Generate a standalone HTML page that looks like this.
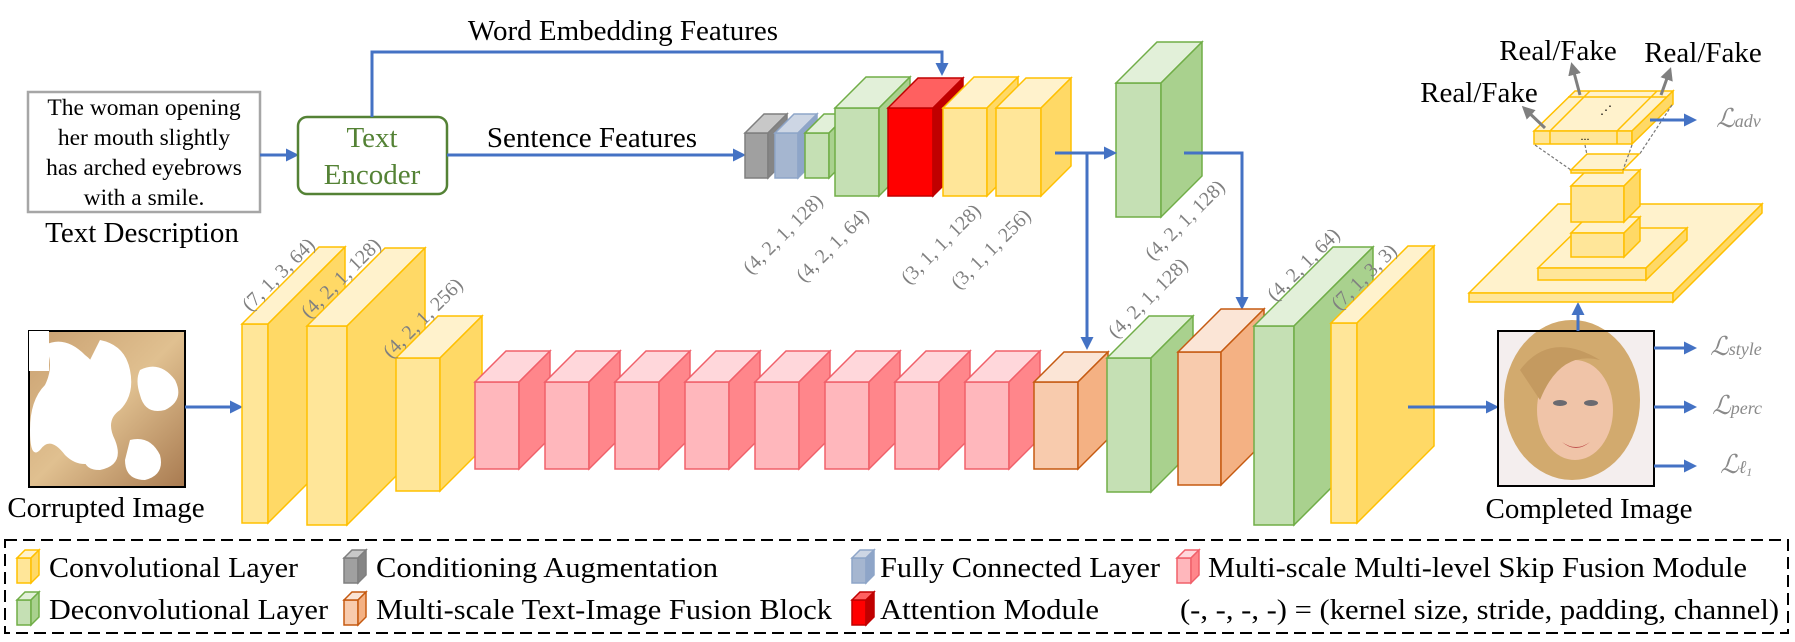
<!DOCTYPE html>
<html><head><meta charset="utf-8"><style>
html,body{margin:0;padding:0;background:#fff;}
svg{display:block;font-family:"Liberation Serif","Times New Roman","DejaVu Serif",serif;}
.t{font-family:"Liberation Serif","Times New Roman","DejaVu Serif",serif;fill:#000;}
.lab{font-family:"Liberation Serif","Times New Roman","DejaVu Serif",serif;fill:#808080;font-size:20px;}
.ls{font-family:"Liberation Serif","Times New Roman","DejaVu Serif",serif;fill:#8a8a8a;font-style:italic;}
.y .f{fill:#FFE699}.y .tp{fill:#FFF2CC}.y .s{fill:#FFD966}.y *{stroke:#FFC000;stroke-width:1.5}
.g .f{fill:#C5E0B4}.g .tp{fill:#E2F0D9}.g .s{fill:#A9D18E}.g *{stroke:#70AD47;stroke-width:1.5}
.p .f{fill:#FFB7BC}.p .tp{fill:#FFD7DB}.p .s{fill:#FF868B}.p *{stroke:#F0606A;stroke-width:1.5}
.o .f{fill:#F8CBAD}.o .tp{fill:#FBE5D6}.o .s{fill:#F4B183}.o *{stroke:#C55A11;stroke-width:1.5}
.r .f{fill:#FF0000}.r .tp{fill:#FF6060}.r .s{fill:#C00000}.r *{stroke:#C00000;stroke-width:1.5}
.k .f{fill:#A0A0A0}.k .tp{fill:#C8C8C8}.k .s{fill:#858585}.k *{stroke:#7f7f7f;stroke-width:1.5}
.b .f{fill:#A5B6D0}.b .tp{fill:#CDD6E4}.b .s{fill:#8EA5C8}.b *{stroke:#8EA5C8;stroke-width:1.5}
</style></head><body>
<svg width="1795" height="642" viewBox="0 0 1795 642" xmlns="http://www.w3.org/2000/svg" font-family="'Liberation Serif', 'Times New Roman', serif">
<defs>
<marker id="ab" markerWidth="13" markerHeight="13" refX="10" refY="6.5" orient="auto" markerUnits="userSpaceOnUse" viewBox="0 0 13 13"><path d="M0,0 L13,6.5 L0,13 z" fill="#4472C4"/></marker>
<marker id="ag" markerWidth="13" markerHeight="13" refX="10" refY="6.5" orient="auto" markerUnits="userSpaceOnUse" viewBox="0 0 13 13"><path d="M0,0 L13,6.5 L0,13 z" fill="#7f7f7f"/></marker>
<linearGradient id="hair" x1="0" y1="0" x2="1" y2="1"><stop offset="0" stop-color="#c9a070"/><stop offset="0.5" stop-color="#e0c090"/><stop offset="1" stop-color="#a87a50"/></linearGradient>
</defs>

<rect x="28" y="92" width="232" height="120" fill="#fff" stroke="#a6a6a6" stroke-width="2.5"/>
<g class="t" font-size="23.5" text-anchor="middle">
<text x="144" y="115">The woman opening</text>
<text x="144" y="145">her mouth slightly</text>
<text x="144" y="175">has arched eyebrows</text>
<text x="144" y="205">with a smile.</text>
</g>
<text class="t" x="142" y="242" font-size="29" text-anchor="middle">Text Description</text>

<line x1="260" y1="155" x2="296" y2="155" stroke="#4472C4" stroke-width="3" marker-end="url(#ab)"/>
<rect x="298" y="117" width="149" height="77" rx="9" fill="#fff" stroke="#548235" stroke-width="2.5"/>
<g class="t" font-size="29" style="fill:#548235" text-anchor="middle">
<text x="372" y="147" style="fill:#548235">Text</text><text x="372" y="184" style="fill:#548235">Encoder</text></g>

<polyline points="372,117 372,52 942,52 942,73" fill="none" stroke="#4472C4" stroke-width="3" marker-end="url(#ab)"/>
<text class="t" x="623" y="40" font-size="29" text-anchor="middle">Word Embedding Features</text>
<line x1="447" y1="155" x2="743" y2="155" stroke="#4472C4" stroke-width="3" marker-end="url(#ab)"/>
<text class="t" x="592" y="147" font-size="29" text-anchor="middle">Sentence Features</text>

<g class="k"><rect class="f" x="745" y="133" width="23" height="45"/><polygon class="tp" points="745,133 764,114 787,114 768,133"/><polygon class="s" points="768,133 787,114 787,159 768,178"/></g>
<g class="b"><rect class="f" x="775" y="133" width="23" height="45"/><polygon class="tp" points="775,133 794,114 817,114 798,133"/><polygon class="s" points="798,133 817,114 817,159 798,178"/></g>
<g class="g"><rect class="f" x="805" y="133" width="24" height="45"/><polygon class="tp" points="805,133 824,114 848,114 829,133"/><polygon class="s" points="829,133 848,114 848,159 829,178"/></g>
<g class="g"><rect class="f" x="835" y="108" width="44" height="88"/><polygon class="tp" points="835,108 866,77 910,77 879,108"/><polygon class="s" points="879,108 910,77 910,165 879,196"/></g>
<g class="r"><rect class="f" x="888" y="108" width="45" height="88"/><polygon class="tp" points="888,108 918,78 963,78 933,108"/><polygon class="s" points="933,108 963,78 963,166 933,196"/></g>
<g class="y"><rect class="f" x="943" y="108" width="44" height="88"/><polygon class="tp" points="943,108 974,77 1018,77 987,108"/><polygon class="s" points="987,108 1018,77 1018,165 987,196"/></g>
<g class="y"><rect class="f" x="996" y="108" width="45" height="88"/><polygon class="tp" points="996,108 1026,78 1071,78 1041,108"/><polygon class="s" points="1041,108 1071,78 1071,166 1041,196"/></g>
<g class="g"><rect class="f" x="1116" y="83" width="45" height="134"/><polygon class="tp" points="1116,83 1157,42 1202,42 1161,83"/><polygon class="s" points="1161,83 1202,42 1202,176 1161,217"/></g>

<line x1="1055" y1="153" x2="1114" y2="153" stroke="#4472C4" stroke-width="3" marker-end="url(#ab)"/>
<line x1="1087" y1="153" x2="1087" y2="347" stroke="#4472C4" stroke-width="3" marker-end="url(#ab)"/>
<polyline points="1184,153 1242,153 1242,307" fill="none" stroke="#4472C4" stroke-width="3" marker-end="url(#ab)"/>

<rect x="29" y="331" width="156" height="156" fill="url(#hair)" stroke="#000" stroke-width="2"/>
<g fill="#fff">
<path d="M45,345 q20,-10 40,10 q20,15 10,40 q-10,20 10,35 q15,15 -5,30 q-20,10 -35,-5 q-15,-20 -25,-5 q-10,10 -10,-20 q0,-30 15,-45 q10,-20 0,-40z"/>
<path d="M100,340 q25,5 30,30 q5,25 -10,40 q-15,10 -5,30 q10,25 -15,30 q-20,0 -15,-20 q5,-20 -10,-35 q-10,-25 10,-45 q10,-20 15,-30z"/>
<path d="M140,370 q20,-10 35,10 q10,20 -10,30 q-20,5 -25,-15 q-5,-15 0,-25z"/>
<path d="M130,440 q20,-5 30,15 q5,20 -15,25 q-20,0 -20,-20z"/>
<rect x="29" y="331" width="20" height="40"/>
</g>
<text class="t" x="106" y="517" font-size="29" text-anchor="middle">Corrupted Image</text>
<line x1="185" y1="407" x2="240" y2="407" stroke="#4472C4" stroke-width="3" marker-end="url(#ab)"/>

<g class="y"><rect class="f" x="242" y="324" width="26" height="199"/><polygon class="tp" points="242,324 319,247 345,247 268,324"/><polygon class="s" points="268,324 345,247 345,446 268,523"/></g>
<g class="y"><rect class="f" x="307" y="326" width="40" height="199"/><polygon class="tp" points="307,326 385,248 425,248 347,326"/><polygon class="s" points="347,326 425,248 425,447 347,525"/></g>
<g class="y"><rect class="f" x="396" y="358" width="44" height="133"/><polygon class="tp" points="396,358 438,316 482,316 440,358"/><polygon class="s" points="440,358 482,316 482,449 440,491"/></g>
<g class="p"><rect class="f" x="475" y="382" width="44" height="87"/><polygon class="tp" points="475,382 506,351 550,351 519,382"/><polygon class="s" points="519,382 550,351 550,438 519,469"/></g>
<g class="p"><rect class="f" x="545" y="382" width="44" height="87"/><polygon class="tp" points="545,382 576,351 620,351 589,382"/><polygon class="s" points="589,382 620,351 620,438 589,469"/></g>
<g class="p"><rect class="f" x="615" y="382" width="44" height="87"/><polygon class="tp" points="615,382 646,351 690,351 659,382"/><polygon class="s" points="659,382 690,351 690,438 659,469"/></g>
<g class="p"><rect class="f" x="685" y="382" width="44" height="87"/><polygon class="tp" points="685,382 716,351 760,351 729,382"/><polygon class="s" points="729,382 760,351 760,438 729,469"/></g>
<g class="p"><rect class="f" x="755" y="382" width="44" height="87"/><polygon class="tp" points="755,382 786,351 830,351 799,382"/><polygon class="s" points="799,382 830,351 830,438 799,469"/></g>
<g class="p"><rect class="f" x="825" y="382" width="44" height="87"/><polygon class="tp" points="825,382 856,351 900,351 869,382"/><polygon class="s" points="869,382 900,351 900,438 869,469"/></g>
<g class="p"><rect class="f" x="895" y="382" width="44" height="87"/><polygon class="tp" points="895,382 926,351 970,351 939,382"/><polygon class="s" points="939,382 970,351 970,438 939,469"/></g>
<g class="p"><rect class="f" x="965" y="382" width="44" height="87"/><polygon class="tp" points="965,382 996,351 1040,351 1009,382"/><polygon class="s" points="1009,382 1040,351 1040,438 1009,469"/></g>
<g class="o"><rect class="f" x="1034" y="382" width="44" height="87"/><polygon class="tp" points="1034,382 1064,352 1108,352 1078,382"/><polygon class="s" points="1078,382 1108,352 1108,439 1078,469"/></g>
<g class="g"><rect class="f" x="1107" y="358" width="44" height="134"/><polygon class="tp" points="1107,358 1149,316 1193,316 1151,358"/><polygon class="s" points="1151,358 1193,316 1193,450 1151,492"/></g>
<g class="o"><rect class="f" x="1178" y="352" width="43" height="133"/><polygon class="tp" points="1178,352 1221,309 1264,309 1221,352"/><polygon class="s" points="1221,352 1264,309 1264,442 1221,485"/></g>
<g class="g"><rect class="f" x="1254" y="326" width="40" height="199"/><polygon class="tp" points="1254,326 1333,247 1373,247 1294,326"/><polygon class="s" points="1294,326 1373,247 1373,446 1294,525"/></g>
<g class="y"><rect class="f" x="1331" y="323" width="26" height="200"/><polygon class="tp" points="1331,323 1408,246 1434,246 1357,323"/><polygon class="s" points="1357,323 1434,246 1434,446 1357,523"/></g>

<g class="lab" text-anchor="end">
<text transform="translate(316,246) rotate(-45)">(7, 1, 3, 64)</text>
<text transform="translate(382,246) rotate(-45)">(4, 2, 1, 128)</text>
<text transform="translate(464,286) rotate(-45)">(4, 2, 1, 256)</text>
<text transform="translate(824,202) rotate(-45)">(4, 2, 1, 128)</text>
<text transform="translate(870,217) rotate(-45)">(4, 2, 1, 64)</text>
<text transform="translate(982,212) rotate(-45)">(3, 1, 1, 128)</text>
<text transform="translate(1032,217) rotate(-45)">(3, 1, 1, 256)</text>
<text transform="translate(1226,188) rotate(-45)">(4, 2, 1, 128)</text>
<text transform="translate(1189,266) rotate(-45)">(4, 2, 1, 128)</text>
<text transform="translate(1341,236) rotate(-45)">(4, 2, 1, 64)</text>
<text transform="translate(1398,252) rotate(-45)">(7, 1, 3, 3)</text>
</g>

<line x1="1408" y1="407" x2="1496" y2="407" stroke="#4472C4" stroke-width="3" marker-end="url(#ab)"/>

<rect x="1498" y="331" width="156" height="155" fill="#f4eeee"/>
<ellipse cx="1572" cy="400" rx="68" ry="80" fill="#d2aa6e"/>
<ellipse cx="1575" cy="410" rx="38" ry="50" fill="#f0c4a8"/>
<ellipse cx="1560" cy="403" rx="7" ry="3" fill="#6a6a70"/><ellipse cx="1591" cy="403" rx="7" ry="3" fill="#6a6a70"/>
<path d="M1562,442 q14,10 28,0 q-14,12 -28,0z" fill="#c0504d"/>
<path d="M1520,370 q30,-40 80,-10 q-40,-10 -60,40z" fill="#c49a60"/>
<rect x="1498" y="331" width="156" height="155" fill="none" stroke="#000" stroke-width="2"/>
<text class="t" x="1589" y="518" font-size="29" text-anchor="middle">Completed Image</text>
<line x1="1578" y1="331" x2="1578" y2="305" stroke="#4472C4" stroke-width="3" marker-end="url(#ab)"/>
<line x1="1654" y1="348" x2="1694" y2="348" stroke="#4472C4" stroke-width="3" marker-end="url(#ab)"/>
<line x1="1654" y1="407" x2="1694" y2="407" stroke="#4472C4" stroke-width="3" marker-end="url(#ab)"/>
<line x1="1654" y1="466" x2="1694" y2="466" stroke="#4472C4" stroke-width="3" marker-end="url(#ab)"/>
<text class="ls" x="1710" y="355" font-size="26">ℒ<tspan font-size="18">style</tspan></text>
<text class="ls" x="1712" y="414" font-size="26">ℒ<tspan font-size="18">perc</tspan></text>
<text class="ls" x="1720" y="473" font-size="26">ℒ<tspan font-size="18">ℓ</tspan><tspan font-size="12" dy="3">1</tspan></text>

<g class="y">
<polygon class="tp" points="1469,293 1558,204 1762,204 1673,293"/>
<rect class="f" x="1469" y="293" width="204" height="9"/>
<polygon class="s" points="1673,293 1762,204 1762,213 1673,302"/>
<polygon class="tp" points="1538,268 1579,228 1687,228 1646,268"/>
<rect class="f" x="1538" y="268" width="108" height="12"/>
<polygon class="s" points="1646,268 1687,228 1687,240 1646,280"/>
<polygon class="tp" points="1571,233 1587,217 1640,217 1624,233"/>
<rect class="f" x="1571" y="233" width="53" height="24"/>
<polygon class="s" points="1624,233 1640,217 1640,241 1624,257"/>
<polygon class="tp" points="1571,186 1587,170 1640,170 1624,186"/>
<rect class="f" x="1571" y="186" width="53" height="36"/>
<polygon class="s" points="1624,186 1640,170 1640,206 1624,222"/>
<polygon class="tp" points="1571,170 1587,154 1639,154 1623,170"/>
<rect class="f" x="1571" y="170" width="52" height="3"/>
<polygon class="tp" points="1534,131 1575,91 1673,91 1632,131"/>
<rect class="f" x="1534" y="131" width="98" height="13"/>
<polygon class="s" points="1632,131 1673,91 1673,104 1632,144"/>
<line x1="1550" y1="131" x2="1590" y2="91"/><line x1="1617" y1="131" x2="1657" y2="91"/>
<line x1="1568" y1="97" x2="1667" y2="97"/>
<line x1="1550" y1="131" x2="1550" y2="144"/><line x1="1617" y1="131" x2="1617" y2="144"/>
</g>
<text x="1585" y="140" font-size="12" text-anchor="middle">...</text>
<text x="1606" y="114" font-size="12" text-anchor="middle">⋰</text>
<g stroke="#777" stroke-width="1.2" stroke-dasharray="3 2" fill="none">
<line x1="1535" y1="145" x2="1571" y2="170"/><line x1="1585" y1="145" x2="1587" y2="155"/>
<line x1="1632" y1="145" x2="1623" y2="170"/><line x1="1672" y1="105" x2="1639" y2="155"/>
</g>
<g stroke="#7f7f7f" stroke-width="3">
<line x1="1545" y1="128" x2="1524" y2="108" marker-end="url(#ag)"/>
<line x1="1580" y1="95" x2="1572" y2="65" marker-end="url(#ag)"/>
<line x1="1661" y1="95" x2="1670" y2="70" marker-end="url(#ag)"/>
</g>
<g class="t" font-size="29" text-anchor="middle">
<text x="1558" y="60">Real/Fake</text>
<text x="1703" y="62">Real/Fake</text>
<text x="1479" y="102">Real/Fake</text>
</g>
<line x1="1650" y1="120" x2="1694" y2="120" stroke="#4472C4" stroke-width="3" marker-end="url(#ab)"/>
<text class="ls" x="1716" y="127" font-size="26">ℒ<tspan font-size="18">adv</tspan></text>

<rect x="5" y="540" width="1783" height="93" fill="none" stroke="#000" stroke-width="2" stroke-dasharray="12 6"/>
<g class="y"><rect class="f" x="17" y="558" width="14" height="25"/><polygon class="tp" points="17,558 25,550 39,550 31,558"/><polygon class="s" points="31,558 39,550 39,575 31,583"/></g>
<g class="k"><rect class="f" x="344" y="558" width="14" height="25"/><polygon class="tp" points="344,558 352,550 366,550 358,558"/><polygon class="s" points="358,558 366,550 366,575 358,583"/></g>
<g class="b"><rect class="f" x="852" y="558" width="14" height="25"/><polygon class="tp" points="852,558 860,550 874,550 866,558"/><polygon class="s" points="866,558 874,550 874,575 866,583"/></g>
<g class="p"><rect class="f" x="1177" y="558" width="14" height="25"/><polygon class="tp" points="1177,558 1185,550 1199,550 1191,558"/><polygon class="s" points="1191,558 1199,550 1199,575 1191,583"/></g>
<g class="g"><rect class="f" x="17" y="600" width="14" height="25"/><polygon class="tp" points="17,600 25,592 39,592 31,600"/><polygon class="s" points="31,600 39,592 39,617 31,625"/></g>
<g class="o"><rect class="f" x="344" y="600" width="14" height="25"/><polygon class="tp" points="344,600 352,592 366,592 358,600"/><polygon class="s" points="358,600 366,592 366,617 358,625"/></g>
<g class="r"><rect class="f" x="852" y="600" width="14" height="25"/><polygon class="tp" points="852,600 860,592 874,592 866,600"/><polygon class="s" points="866,600 874,592 874,617 866,625"/></g>
<g class="t" font-size="29">
<text x="49" y="577" textLength="249" lengthAdjust="spacingAndGlyphs">Convolutional Layer</text>
<text x="376" y="577" textLength="342" lengthAdjust="spacingAndGlyphs">Conditioning Augmentation</text>
<text x="880" y="577" textLength="280" lengthAdjust="spacingAndGlyphs">Fully Connected Layer</text>
<text x="1208" y="577" textLength="539" lengthAdjust="spacingAndGlyphs">Multi-scale Multi-level Skip Fusion Module</text>
<text x="49" y="619" textLength="279" lengthAdjust="spacingAndGlyphs">Deconvolutional Layer</text>
<text x="376" y="619" textLength="456" lengthAdjust="spacingAndGlyphs">Multi-scale Text-Image Fusion Block</text>
<text x="880" y="619" textLength="219" lengthAdjust="spacingAndGlyphs">Attention Module</text>
<text x="1180" y="619" textLength="599" lengthAdjust="spacingAndGlyphs">(-, -, -, -) = (kernel size, stride, padding, channel)</text>
</g>
</svg>
</body></html>
